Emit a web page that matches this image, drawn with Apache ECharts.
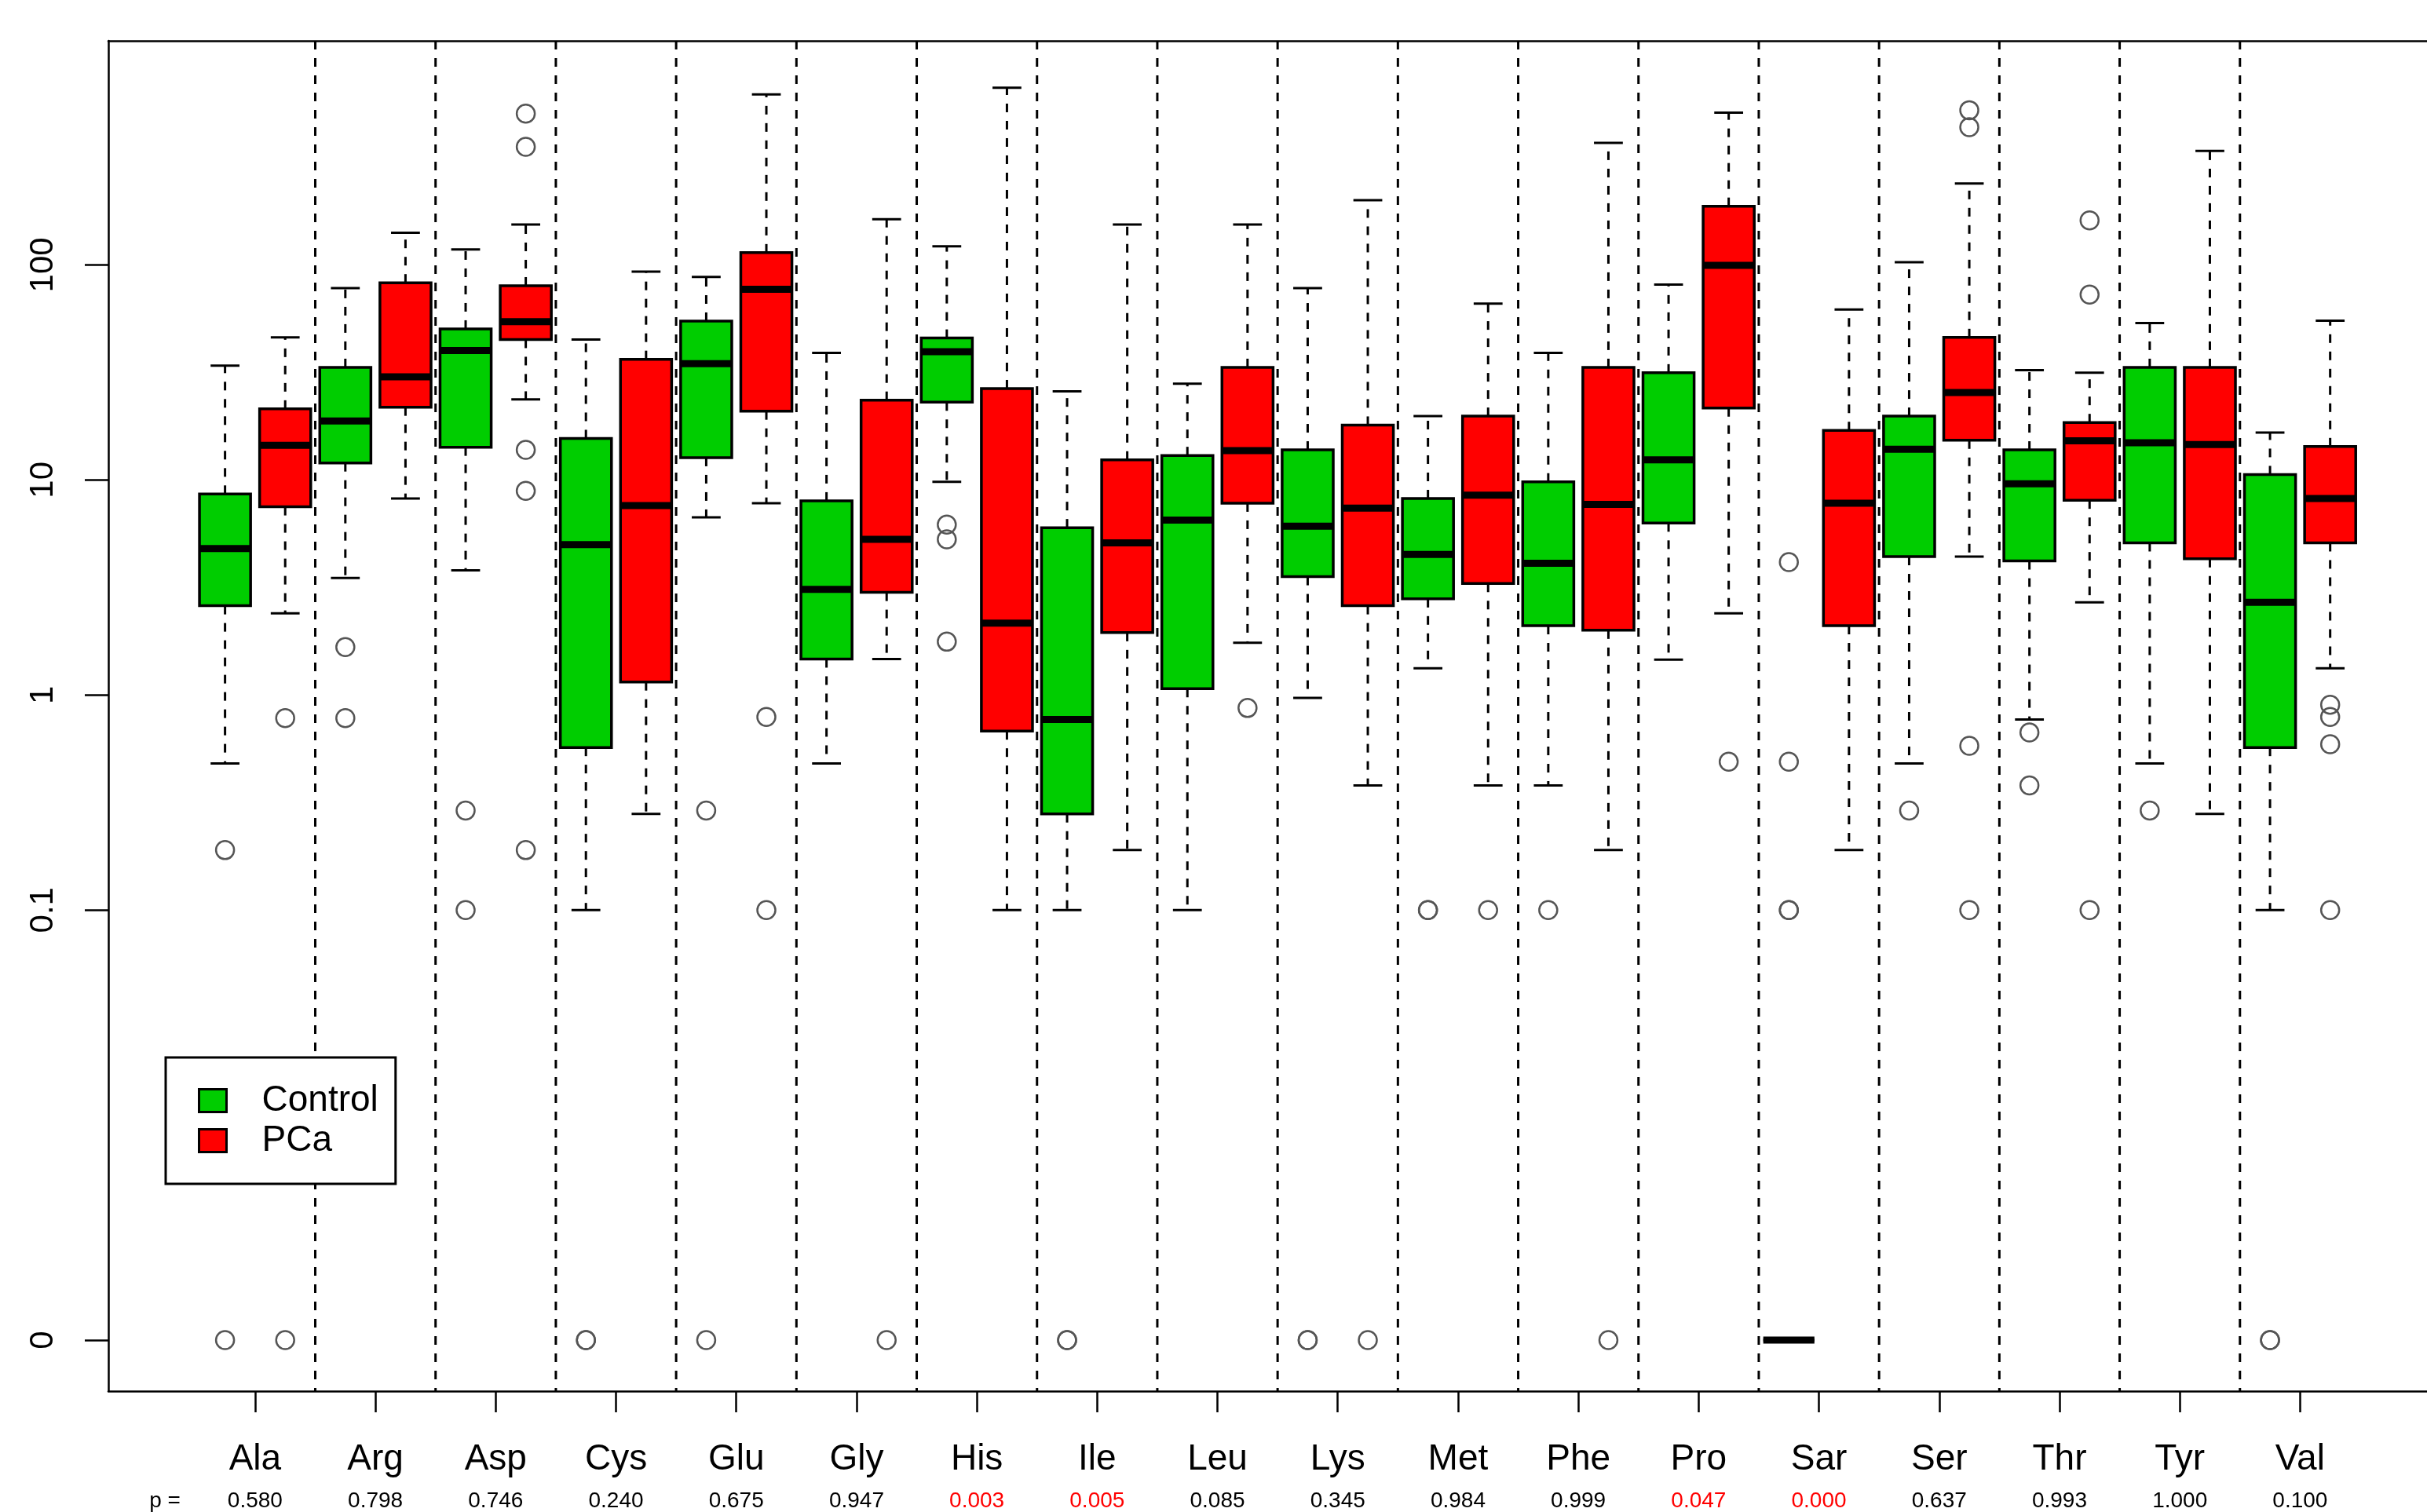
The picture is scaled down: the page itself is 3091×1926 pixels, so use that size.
<!DOCTYPE html>
<html>
<head>
<meta charset="utf-8">
<script src="https://cdn.jsdelivr.net/npm/echarts@6/dist/echarts.min.js"></script>
<style>
html,body{margin:0;padding:0;background:#fff;}
#chart{width:3091px;height:1926px;}
</style>
</head>
<body>
<div id="chart"></div>
<script>
// ---------------- data ----------------
const categories = ['Ala','Arg','Asp','Cys','Glu','Gly','His','Ile','Leu','Lys','Met','Phe','Pro','Sar','Ser','Thr','Tyr','Val'];
const pValues = ['0.580','0.798','0.746','0.240','0.675','0.947','0.003','0.005','0.085','0.345','0.984','0.999','0.047','0.000','0.637','0.993','1.000','0.100'];
const pLabel = 'p =';
const seriesNames = ['Control','PCa'];
const yTickValues = [0, 0.1, 1, 10, 100];
const yTickLabels = ['0','0.1','1','10','100'];

// [lower whisker, Q1, median, Q3, upper whisker]
const controlStats = [
  [0.48, 2.6, 4.8, 8.6, 34],
  [3.5, 12, 18.8, 33.4, 78],
  [3.8, 14.2, 40, 50.4, 118],
  [0.1, 0.57, 5, 15.6, 45],
  [6.7, 12.7, 34.7, 54.8, 88],
  [0.48, 1.47, 3.1, 8.0, 39],
  [9.8, 23, 39.5, 45.7, 122],
  [0.1, 0.28, 0.77, 6.0, 25.8],
  [0.1, 1.07, 6.5, 13, 28],
  [0.97, 3.55, 6.1, 13.8, 78],
  [1.33, 2.8, 4.5, 8.2, 19.8],
  [0.38, 2.1, 4.1, 9.8, 39],
  [1.46, 6.3, 12.4, 31.5, 81],
  [0, 0, 0, 0, 0],
  [0.48, 4.4, 13.9, 19.8, 103],
  [0.77, 4.2, 9.6, 13.8, 32.4],
  [0.48, 5.1, 14.9, 33.4, 53.6],
  [0.1, 0.57, 2.7, 10.6, 16.6]
];
const pcaStats = [
  [2.4, 7.5, 14.5, 21.4, 46],
  [8.2, 21.8, 30.2, 82.6, 141],
  [23.7, 45, 54.5, 80, 154],
  [0.28, 1.15, 7.6, 36.4, 93],
  [7.8, 20.9, 77, 114, 620],
  [1.47, 3.0, 5.3, 23.5, 163],
  [0.1, 0.68, 2.16, 26.6, 667],
  [0.19, 1.95, 5.1, 12.4, 154],
  [1.75, 7.8, 13.7, 33.4, 154],
  [0.38, 2.6, 7.4, 18, 200],
  [0.38, 3.3, 8.5, 19.8, 66],
  [0.19, 2.0, 7.7, 33.4, 369],
  [2.4, 21.6, 99.5, 187.5, 510],
  [0.19, 2.1, 7.8, 17, 62],
  [4.4, 15.3, 25.5, 46, 239],
  [2.7, 8.05, 15.2, 18.5, 31.5],
  [0.28, 4.3, 14.6, 33.4, 339],
  [1.33, 5.1, 8.2, 14.3, 55]
];
const controlOutliers = [
  [0.19, 0],
  [1.67, 0.78],
  [0.29, 0.1],
  [0, 0],
  [0.29, 0],
  [],
  [6.2, 5.3, 1.77],
  [0, 0],
  [],
  [0, 0],
  [0.1, 0.1],
  [0.1],
  [],
  [4.15, 0.49, 0.1, 0.1],
  [0.29],
  [0.67, 0.38],
  [0.29],
  [0, 0]
];
const pcaOutliers = [
  [0.78, 0],
  [],
  [505, 354, 13.8, 8.9, 0.19],
  [],
  [0.79, 0.1],
  [0],
  [],
  [],
  [0.87],
  [0],
  [0.1],
  [0],
  [0.49],
  [],
  [524, 437, 0.58, 0.1],
  [161, 72.8, 0.1],
  [],
  [0.9, 0.79, 0.59, 0.1]
];

// ---------------- helpers ----------------
const ZERO_LOG = -3; // the "0" row of the chart sits at 10^-3 on the log scale
function lg(v){ return v <= 0 ? ZERO_LOG : Math.log10(v); }
const Y_MIN = -3.237, Y_MAX = 3.042;
// plot region runs past the right edge of the picture; only the visible part is laid out
const X_MIN = -0.94, X_MAX = 37.61;
const GREEN = '#00CD00', RED = '#FF0000';
const FONT = 'Liberation Sans, Arial, sans-serif';

const controlBoxes = controlStats.map((s, i) => [2 * i + 1].concat(s.map(lg)));
const pcaBoxes = pcaStats.map((s, i) => [2 * i + 2].concat(s.map(lg)));
const controlPts = [];
controlOutliers.forEach((arr, i) => arr.forEach(v => controlPts.push([2 * i + 1, lg(v)])));
const pcaPts = [];
pcaOutliers.forEach((arr, i) => arr.forEach(v => pcaPts.push([2 * i + 2, lg(v)])));
const separators = categories.slice(0, -1).map((c, i) => [2 * i + 2.5]);
const labelPositions = categories.map((c, i) => 2 * i + 1.5);

function boxRender(color) {
  return function (params, api) {
    const x = api.value(0);
    const unit = api.size([1, 0])[0];
    const half = 0.425 * unit;
    const cap = 0.24 * unit;
    const pWl = api.coord([x, api.value(1)]);
    const pQ1 = api.coord([x, api.value(2)]);
    const pMd = api.coord([x, api.value(3)]);
    const pQ3 = api.coord([x, api.value(4)]);
    const pWh = api.coord([x, api.value(5)]);
    const cx = pMd[0];
    const dash = {stroke: '#000', lineWidth: 3, lineDash: [11, 11]};
    const solid = {stroke: '#000', lineWidth: 3};
    return {
      type: 'group',
      children: [
        {type: 'line', shape: {x1: cx, y1: pQ1[1], x2: cx, y2: pWl[1]}, style: dash},
        {type: 'line', shape: {x1: cx, y1: pQ3[1], x2: cx, y2: pWh[1]}, style: dash},
        {type: 'line', shape: {x1: cx - cap, y1: pWl[1], x2: cx + cap, y2: pWl[1]}, style: solid},
        {type: 'line', shape: {x1: cx - cap, y1: pWh[1], x2: cx + cap, y2: pWh[1]}, style: solid},
        {type: 'rect', shape: {x: cx - half, y: pQ3[1], width: 2 * half, height: pQ1[1] - pQ3[1]},
          style: {fill: color, stroke: '#000', lineWidth: 3.5}},
        {type: 'line', shape: {x1: cx - half, y1: pMd[1], x2: cx + half, y2: pMd[1]},
          style: {stroke: '#000', lineWidth: 9}}
      ]
    };
  };
}

const chart = echarts.init(document.getElementById('chart'), null, {renderer: 'canvas'});
const option = {
  animation: false,
  backgroundColor: '#fff',
  textStyle: {fontFamily: FONT},
  grid: {left: 138, top: 52, right: 0, height: 1724, show: false},
  legend: {
    left: 211, top: 1347, orient: 'vertical',
    backgroundColor: '#fff', borderColor: '#000', borderWidth: 3,
    padding: [32, 22, 32, 41], itemGap: 5, itemWidth: 35, itemHeight: 29,
    textStyle: {fontFamily: FONT, fontSize: 46, color: '#000', padding: [0, 0, 0, 40]},
    data: [
      {name: seriesNames[0], icon: 'rect', itemStyle: {color: GREEN, borderColor: '#000', borderWidth: 3}},
      {name: seriesNames[1], icon: 'rect', itemStyle: {color: RED, borderColor: '#000', borderWidth: 3}}
    ]
  },
  xAxis: [
    {
      type: 'value', min: X_MIN, max: X_MAX, position: 'bottom',
      splitLine: {show: false},
      axisLine: {show: true, onZero: false, lineStyle: {color: '#000', width: 2.5}},
      axisTick: {show: true, customValues: labelPositions, length: 27, lineStyle: {color: '#000', width: 2.5}},
      axisLabel: {customValues: labelPositions, margin: 64, fontSize: 46, color: '#000', fontFamily: FONT,
        formatter: v => categories[Math.round((v - 1.5) / 2)]}
    },
    {
      type: 'value', min: X_MIN, max: X_MAX, position: 'bottom',
      splitLine: {show: false}, axisLine: {show: false, onZero: false}, axisTick: {show: false},
      axisLabel: {customValues: [0].concat(labelPositions), margin: 126, fontSize: 28, fontFamily: FONT,
        formatter: v => v < 1 ? pLabel : pValues[Math.round((v - 1.5) / 2)],
        color: v => {
          const n = parseFloat(v);
          if (n < 1) return '#000';
          const p = parseFloat(pValues[Math.round((n - 1.5) / 2)]);
          return p < 0.05 ? '#FF0000' : '#000';
        }}
    },
    {
      type: 'value', min: X_MIN, max: X_MAX, position: 'top',
      splitLine: {show: false}, axisTick: {show: false}, axisLabel: {show: false},
      axisLine: {show: true, onZero: false, lineStyle: {color: '#000', width: 2.5}}
    }
  ],
  yAxis: {
    type: 'value', min: Y_MIN, max: Y_MAX, position: 'left',
    splitLine: {show: false},
    axisLine: {show: true, onZero: false, lineStyle: {color: '#000', width: 2.5}},
    axisTick: {show: true, customValues: yTickValues.map(lg), length: 30, lineStyle: {color: '#000', width: 2.5}},
    axisLabel: {customValues: yTickValues.map(lg), rotate: 90, margin: 62, fontSize: 42, color: '#000', fontFamily: FONT,
      formatter: v => yTickLabels[yTickValues.map(lg).findIndex(t => Math.abs(t - v) < 1e-6)]}
  },
  series: [
    {
      name: 'separators', type: 'custom', silent: true, z: 1,
      data: separators,
      renderItem: function (params, api) {
        const top = api.coord([api.value(0), Y_MAX]);
        const bot = api.coord([api.value(0), Y_MIN]);
        return {type: 'line', shape: {x1: top[0], y1: top[1], x2: bot[0], y2: bot[1]},
          style: {stroke: '#000', lineWidth: 3, lineDash: [11, 11]}};
      }
    },
    {name: seriesNames[0], type: 'custom', z: 2, data: controlBoxes, renderItem: boxRender(GREEN),
      itemStyle: {color: GREEN, borderColor: '#000', borderWidth: 3},
      encode: {x: 0, y: [1, 2, 3, 4, 5]}},
    {name: seriesNames[1], type: 'custom', z: 2, data: pcaBoxes, renderItem: boxRender(RED),
      itemStyle: {color: RED, borderColor: '#000', borderWidth: 3},
      encode: {x: 0, y: [1, 2, 3, 4, 5]}},
    {name: 'Control outliers', type: 'scatter', z: 3, data: controlPts, symbol: 'circle', symbolSize: 23,
      itemStyle: {color: 'rgba(0,0,0,0)', borderColor: '#555', borderWidth: 2.5, opacity: 1}, silent: true},
    {name: 'PCa outliers', type: 'scatter', z: 3, data: pcaPts, symbol: 'circle', symbolSize: 23,
      itemStyle: {color: 'rgba(0,0,0,0)', borderColor: '#555', borderWidth: 2.5, opacity: 1}, silent: true}
  ]
};
chart.setOption(option);
</script>
</body>
</html>
